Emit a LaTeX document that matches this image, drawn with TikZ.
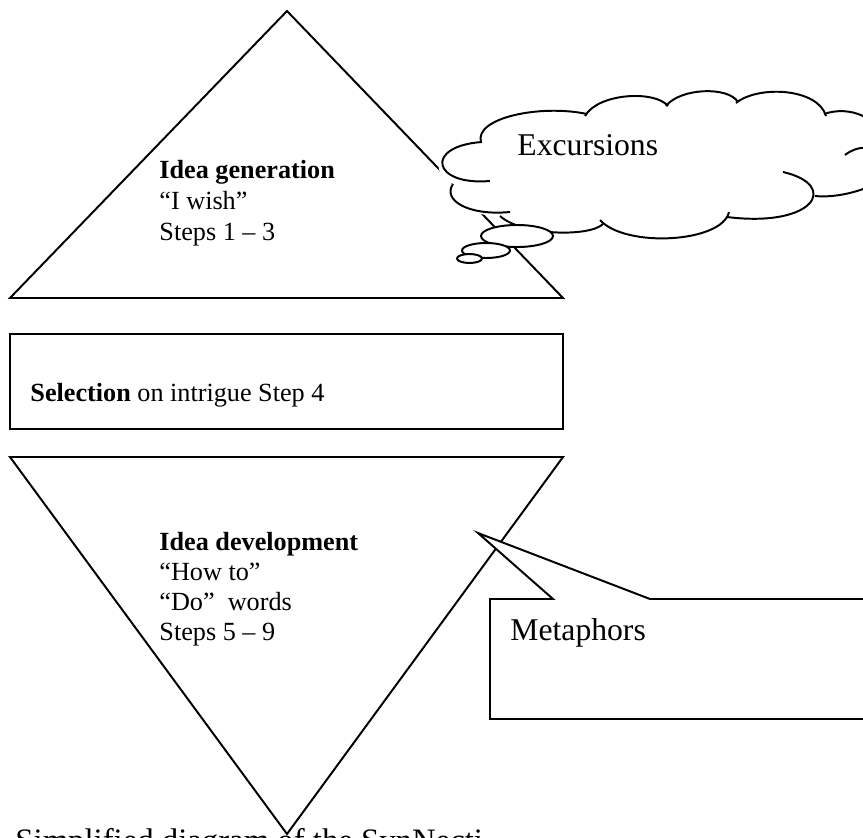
\documentclass[tikz,border=0pt]{standalone}
\usepackage{fontspec}
\setmainfont{Liberation Serif}
\begin{document}
\begin{tikzpicture}[x=0.458pt,y=-0.458pt,
  outline/.style={draw=black,line width=0.9pt,line join=miter},
  lobe/.style={draw=black,line width=0.9pt},
  bodytext/.style={font=\fontsize{12}{14}\selectfont,anchor=base west,inner sep=0pt},
  bigtext/.style={font=\fontsize{14.5}{17}\selectfont,anchor=base west,inner sep=0pt},
  captext/.style={font=\fontsize{15}{18}\selectfont,anchor=base west,inner sep=0pt}]
\useasboundingbox (0,0) rectangle (863,837);
\clip (0,0) rectangle (863,837);
\fill[white] (0,0) rectangle (863,837);

% top triangle
\draw[outline] (287,11) -- (563,298) -- (10,298) -- cycle;
% selection box
\draw[outline] (10,334) rectangle (563,429);
% inverted triangle
\draw[outline] (10,457) -- (563,457) -- (287,834) -- cycle;

% cloud fill
\fill[white] (482,142) .. controls (474,118) and (540,104) .. (587,114)
  .. controls (598,93) and (655,90) .. (668,106)
  .. controls (680,88) and (728,86) .. (738,102)
  .. controls (758,85) and (818,88) .. (826,116)
  .. controls (850,105) and (878,118) .. (885,140)
  -- (905,160) -- (880,182)
  .. controls (860,192) and (835,198) .. (815,196)
  .. controls (808,215) and (760,225) .. (727,217)
  .. controls (722,243) and (625,248) .. (600,220)
  .. controls (590,237) and (522,236) .. (500,216)
  .. controls (468,216) and (442,200) .. (453,184)
  .. controls (425,170) and (440,145) .. (482,142) -- cycle;
% cloud lobes
\draw[lobe] (481,142) .. controls (474,118) and (540,104) .. (587,114);
\draw[lobe] (585,116) .. controls (598,93) and (655,90) .. (668,106);
\draw[lobe] (666,106) .. controls (680,88) and (728,86) .. (738,102);
\draw[lobe] (736,103) .. controls (758,85) and (818,88) .. (826,116);
\draw[lobe] (824,114) .. controls (850,105) and (878,118) .. (885,140);
\draw[lobe] (845,155) .. controls (870,135) and (905,160) .. (880,182);
\draw[lobe] (880,182) .. controls (860,192) and (835,198) .. (815,196);
\draw[lobe] (783,172) .. controls (840,185) and (815,228) .. (727,217);
\draw[lobe] (729,212) .. controls (722,243) and (625,248) .. (600,220);
\draw[lobe] (603,224) .. controls (590,237) and (522,236) .. (500,216);
\draw[lobe] (510,212) .. controls (468,216) and (442,200) .. (453,184);
\draw[lobe] (490,181) .. controls (432,186) and (424,146) .. (482,142);
% thought bubbles
\draw[lobe,fill=white] (517,236) ellipse [x radius=16.49pt, y radius=5.04pt];
\draw[lobe,fill=white] (486,250.5) ellipse [x radius=10.99pt, y radius=3.44pt];
\draw[lobe,fill=white] (469.5,258.5) ellipse [x radius=5.73pt, y radius=2.06pt];
\node[bigtext] (exc) at (517,155) {Excursions};

% callout
\draw[outline,fill=white] (490,599) -- (553,599) -- (478,533) -- (650,599)
  -- (900,599) -- (900,719) -- (490,719) -- cycle;
\node[bigtext] (met) at (510,640) {Metaphors};

% texts top triangle
\node[bodytext] (g1) at (159,178) {\textbf{Idea generation}};
\node[bodytext] (g2) at (159,209) {``I wish''};
\node[bodytext] (g3) at (159,240) {Steps 1 -- 3};
% selection
\node[bodytext] (sel) at (30,401) {\textbf{Selection} on intrigue Step 4};
% texts bottom triangle
\node[bodytext] (d1) at (159,550) {\textbf{Idea development}};
\node[bodytext] (d2) at (159,580) {``How to''};
\node[bodytext] (d3) at (159,610) {``Do''\ \ words};
\node[bodytext] (d4) at (159,640) {Steps 5 -- 9};

% caption
\node[captext] (cap) at (15,851) {Simplified diagram of the SynNecti};
\end{tikzpicture}
\end{document}
